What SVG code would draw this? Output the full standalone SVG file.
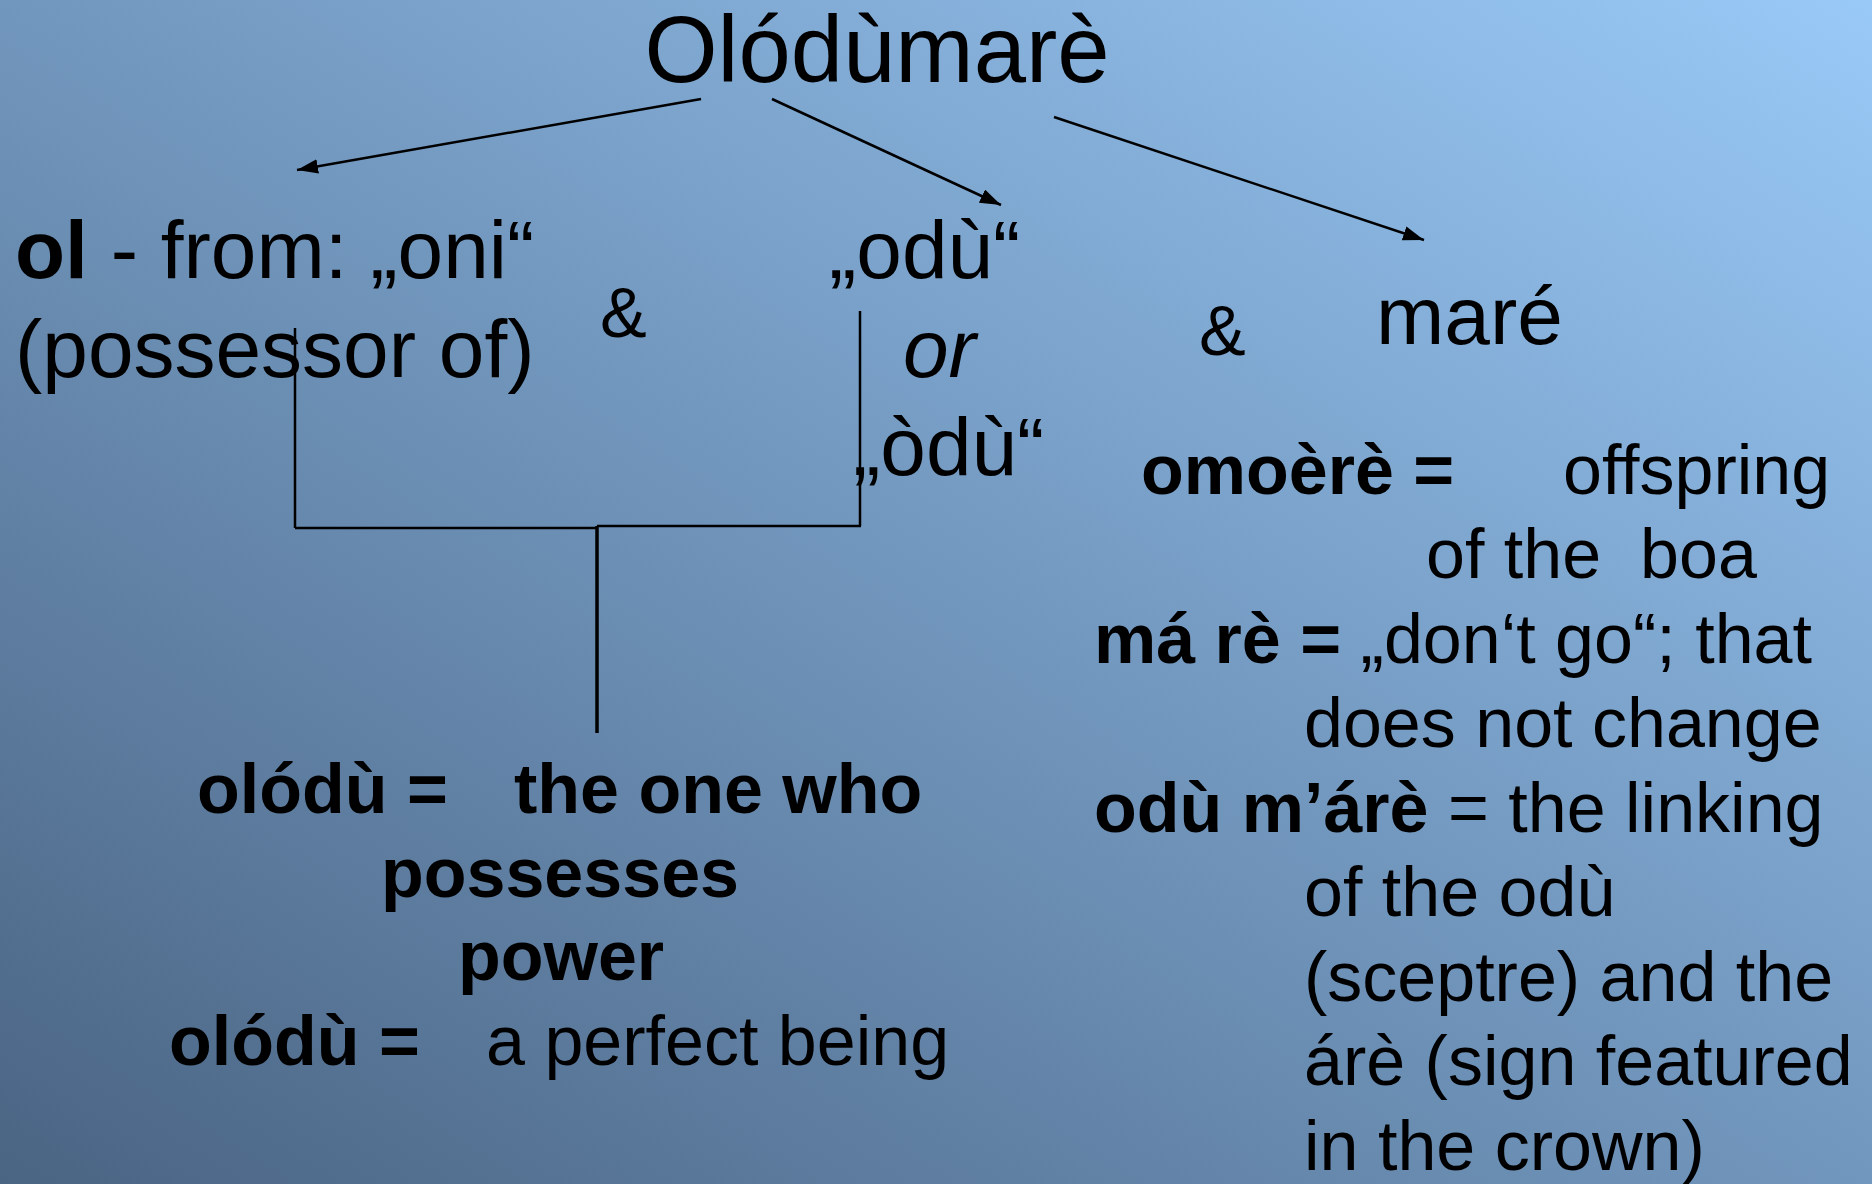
<svg xmlns="http://www.w3.org/2000/svg" width="1872" height="1184" viewBox="0 0 1872 1184">
  <defs>
    <linearGradient id="bg" x1="0" y1="1" x2="1" y2="0">
      <stop offset="0" stop-color="#4a6483"/>
      <stop offset="1" stop-color="#99c9f7"/>
    </linearGradient>
    <marker id="arrow" viewBox="0 0 20 14" refX="20" refY="7" markerWidth="21" markerHeight="15" orient="auto" markerUnits="userSpaceOnUse">
      <path d="M0,0 L20,7 L0,14 z" fill="#000"/>
    </marker>
    <style>
      text { font-family: "Liberation Sans", Arial, sans-serif; fill: #000; }
      .big { font-size: 82px; }
      .mid { font-size: 70px; }
      .b { font-weight: bold; }
      .arr { stroke: #000; stroke-width: 2.5; fill: none; marker-end: url(#arrow); }
      .br { stroke: #000; stroke-width: 2.5; fill: none; }
    </style>
  </defs>
  <rect x="0" y="0" width="1872" height="1184" fill="url(#bg)"/>

  <g id="connectors">
    <line class="arr" x1="701" y1="99" x2="297" y2="170"/>
    <line class="arr" x1="772" y1="99" x2="1001" y2="205"/>
    <line class="arr" x1="1054" y1="117" x2="1424" y2="240"/>
    <line class="br" x1="295" y1="328" x2="295" y2="528"/>
    <line class="br" x1="295" y1="528" x2="597" y2="528"/>
    <line class="br" x1="597" y1="526" x2="861" y2="526"/>
    <line class="br" x1="860" y1="311" x2="860" y2="526"/>
    <line class="br" style="stroke-width:3.5" x1="597" y1="526" x2="597" y2="733"/>
  </g>

  <g id="title">
    <text x="877" y="82" text-anchor="middle" style="font-size:94px">Olódùmarè</text>
  </g>

  <g id="ol">
    <text class="big" x="15" y="278"><tspan class="b">ol</tspan> - from: „oni“</text>
    <text class="big" x="15" y="377">(possessor of)</text>
  </g>

  <g id="amp1">
    <text class="mid" x="600" y="337">&amp;</text>
  </g>

  <g id="odu">
    <text class="big" x="829" y="278">„odù“</text>
    <text class="big" x="903" y="377" font-style="italic">or</text>
    <text class="big" x="853" y="475">„òdù“</text>
  </g>

  <g id="amp2">
    <text class="mid" x="1199" y="355">&amp;</text>
  </g>

  <g id="mare">
    <text class="big" x="1376" y="344">maré</text>
  </g>

  <g id="olodu">
    <text class="mid b" x="197" y="813">olódù =<tspan x="514">the one who</tspan></text>
    <text class="mid b" x="560" y="897" text-anchor="middle">possesses</text>
    <text class="mid b" x="561" y="980" text-anchor="middle">power</text>
    <text class="mid" x="169" y="1065"><tspan class="b">olódù =</tspan><tspan x="486">a perfect being</tspan></text>
  </g>

  <g id="mare-defs">
    <text class="mid" x="1141" y="494"><tspan class="b">omoèrè =</tspan><tspan x="1563">offspring</tspan></text>
    <text class="mid" x="1426" y="578" xml:space="preserve">of the  boa</text>
    <text class="mid" x="1094" y="663"><tspan class="b">má rè =</tspan> „don‘t go“; that</text>
    <text class="mid" x="1304" y="747">does not change</text>
    <text class="mid" x="1094" y="832"><tspan class="b">odù m’árè</tspan> = the linking</text>
    <text class="mid" x="1304" y="916">of the odù</text>
    <text class="mid" x="1304" y="1001">(sceptre) and the</text>
    <text class="mid" x="1304" y="1085">árè (sign featured</text>
    <text class="mid" x="1304" y="1170">in the crown)</text>
  </g>
</svg>
